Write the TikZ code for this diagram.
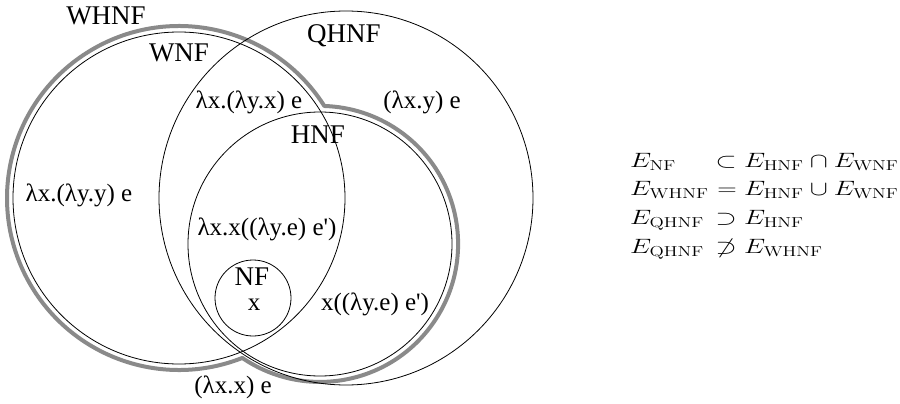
\documentclass[tikz,border=0pt]{standalone}
\usepackage{amsmath,amssymb}
\usepackage{graphicx}
\usepackage[no-math]{fontspec}
\setmainfont{Liberation Serif}
\newcommand{\sxq}[1]{\scalebox{1.3}[1]{#1}}
\definecolor{whnfgray}{RGB}{138,138,138}
\tikzset{
  setc/.style={circle, draw=black, line width=0.8pt, inner sep=0pt, minimum size=#1},
  caplab/.style={font=\fontsize{27}{27}\selectfont, inner sep=0pt, anchor=base},
  termlab/.style={font=\fontsize{25}{25}\selectfont, inner sep=0pt, anchor=base},
  eqtxt/.style={font=\fontsize{20}{20}\selectfont, inner sep=0pt},
  whnfline/.style={draw=whnfgray, line width=4pt, line join=round},
}
\begin{document}
\begin{tikzpicture}[x=1pt, y=-1pt]
\useasboundingbox (0,0) rectangle (900,404);
% WHNF outline (union of WNF and HNF, offset)
\draw[whnfline] (324.4,106.1) arc[start angle=32.3, end angle=291.6, radius=172pt]
  arc[start angle=-124.3, end angle=88.2, radius=138pt] -- cycle;
% set circles
\node[setc=332pt] (wnf) at (179,198) {};
\node[setc=374pt] (qhnf) at (346,198) {};
\node[setc=264pt] (hnf) at (320,244) {};
\node[setc=76pt] (nf) at (253,298) {};
% set labels
\node[caplab] (lwhnf) at (106,25) {WHNF};
\node[caplab] (lwnf) at (179,62) {WNF};
\node[caplab] (lqhnf) at (344,43) {QHNF};
\node[caplab] (lhnf) at (318,143) {HNF};
\node[caplab] (lnf) at (252,285) {NF};
% terms
\node[termlab] (t1) at (249,108) {λx.(λy.x) e};
\node[termlab] (t2) at (422,108) {(λx.y) e};
\node[termlab] (t3) at (79,201) {λx.(λy.y) e};
\node[termlab] (t4) at (267,235) {λx.x((λy.e) e\textquotesingle)};
\node[termlab] (t5) at (254,310) {x};
\node[termlab] (t6) at (375,310) {x((λy.e) e\textquotesingle)};
\node[termlab] (t7) at (233,393) {(λx.x) e};
% relations
\node[eqtxt, anchor=base west] (e1a) at (630,167) {\sxq{$E_{\mathrm{NF}}$}};
\node[eqtxt, anchor=base] (e1r) at (726,167) {\sxq{$\subset$}};
\node[eqtxt, anchor=base west] (e1b) at (744,167) {\sxq{$E_{\mathrm{HNF}}\cap E_{\mathrm{WNF}}$}};
\node[eqtxt, anchor=base west] (e2a) at (630,195) {\sxq{$E_{\mathrm{WHNF}}$}};
\node[eqtxt, anchor=base] (e2r) at (727,195) {\sxq{$=$}};
\node[eqtxt, anchor=base west] (e2b) at (744,195) {\sxq{$E_{\mathrm{HNF}}\cup E_{\mathrm{WNF}}$}};
\node[eqtxt, anchor=base west] (e3a) at (630,224) {\sxq{$E_{\mathrm{QHNF}}$}};
\node[eqtxt, anchor=base] (e3r) at (726,224) {\sxq{$\supset$}};
\node[eqtxt, anchor=base west] (e3b) at (744,224) {\sxq{$E_{\mathrm{HNF}}$}};
\node[eqtxt, anchor=base west] (e4a) at (630,253) {\sxq{$E_{\mathrm{QHNF}}$}};
\node[eqtxt, anchor=base] (e4r) at (726,253) {\sxq{$\not\supset$}};
\node[eqtxt, anchor=base west] (e4b) at (744,253) {\sxq{$E_{\mathrm{WHNF}}$}};
\end{tikzpicture}
\end{document}
